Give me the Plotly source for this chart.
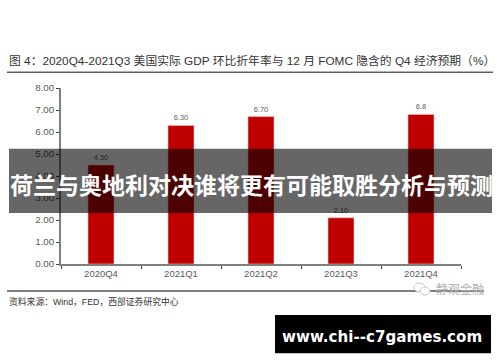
import plotly.graph_objects as go

categories = ["2020Q4", "2021Q1", "2021Q2", "2021Q3", "2021Q4"]
values = [4.5, 6.3, 6.7, 2.1, 6.8]
value_labels = ["4.50", "6.30", "6.70", "2.10", "6.8"]
y_ticks = [0, 1, 2, 3, 4, 5, 6, 7, 8]
y_tick_labels = ["0.00", "1.00", "2.00", "3.00", "4.00", "5.00", "6.00", "7.00", "8.00"]

W, H = 500, 362
ML, MR, MT, MB = 61, 39, 88.3, 98
CJK = "Noto Sans CJK SC, Liberation Sans, sans-serif"
LAT = "Liberation Sans, Noto Sans CJK SC, sans-serif"

fig = go.Figure(go.Bar(
    x=categories, y=values, width=0.325,
    marker=dict(color="#c00000", line=dict(color="#eec8c8", width=0.6)),
    text=value_labels, textposition="outside", cliponaxis=False,
    textfont=dict(family=LAT, size=7.4, color="#595959"),
))


def px(x):
    return (x - ML) / (W - ML - MR)


def py(y):
    return 1 - (y - MT) / (H - MT - MB)


def rect(x0, y0, x1, y1, color):
    return dict(type="rect", xref="paper", yref="paper", x0=px(x0), x1=px(x1),
                y0=py(y1), y1=py(y0), fillcolor=color, line=dict(width=0), layer="above")


def hline(x0, x1, y, color, width):
    return dict(type="line", xref="paper", yref="paper", x0=px(x0), x1=px(x1),
                y0=py(y), y1=py(y), line=dict(color=color, width=width), layer="above")


def circle(x0, y0, x1, y1, color):
    return dict(type="circle", xref="paper", yref="paper", x0=px(x0), x1=px(x1),
                y0=py(y1), y1=py(y0), fillcolor="white", line=dict(color=color, width=1), layer="above")


def note(x, y, text, size, color, family=CJK, anchor="left"):
    return dict(xref="paper", yref="paper", x=px(x), y=py(y), text=text, showarrow=False,
                xanchor=anchor, yanchor="middle", borderpad=0,
                font=dict(family=family, size=size, color=color))


fig.update_layout(
    width=W, height=H, autosize=False, showlegend=False, bargap=0.675,
    paper_bgcolor="white", plot_bgcolor="white",
    margin=dict(l=ML, r=MR, t=MT, b=MB),
    xaxis=dict(
        type="category", tickson="boundaries", ticks="outside", ticklen=3, tickcolor="#404040",
        showline=True, linecolor="#7f7f7f", linewidth=1.5, showgrid=False,
        tickfont=dict(family=LAT, size=9.5, color="#595959"),
    ),
    yaxis=dict(
        range=[0, 8], tickmode="array", tickvals=y_ticks, ticktext=y_tick_labels,
        ticks="outside", ticklen=3, tickcolor="#404040",
        showline=True, linecolor="#7f7f7f", linewidth=1.5, showgrid=False,
        tickfont=dict(family=LAT, size=9.8, color="#595959"),
    ),
    shapes=[
        hline(7, 493, 72.5, "#111111", 1),
        hline(7, 484, 291, "#7f7f7f", 2),
        circle(414, 283, 425, 292, "#c8c8c8"),
        circle(420, 287, 430, 295, "#c8c8c8"),
        rect(9, 149, 492, 213, "rgba(0,0,0,0.6)"),
        rect(275, 315, 491, 353, "#000000"),
    ],
    annotations=[
        note(8, 61.5, "图 4：2020Q4-2021Q3 美国实际 GDP 环比折年率与 12 月 FOMC 隐含的 Q4 经济预期（%）", 11.8, "#333333", family=LAT),
        note(8, 301.5, "资料来源：Wind，FED，西部证券研究中心", 8.8, "#333333", family=LAT),
        note(435, 288, "静观金融", 12, "#b0b0b0"),
        note(251, 184, "<b>荷兰与奥地利对决谁将更有可能取胜分析与预测</b>", 23, "#ffffff", anchor="center"),
        note(382, 336.5, "<b>www.chi--c7games.com</b>", 15.1, "#ffffff", family="DejaVu Sans, sans-serif", anchor="center"),
    ],
)
fig.write_html("out.html", config={"displayModeBar": False},
               post_script="document.body.style.margin='0';document.body.style.overflow='hidden';")
